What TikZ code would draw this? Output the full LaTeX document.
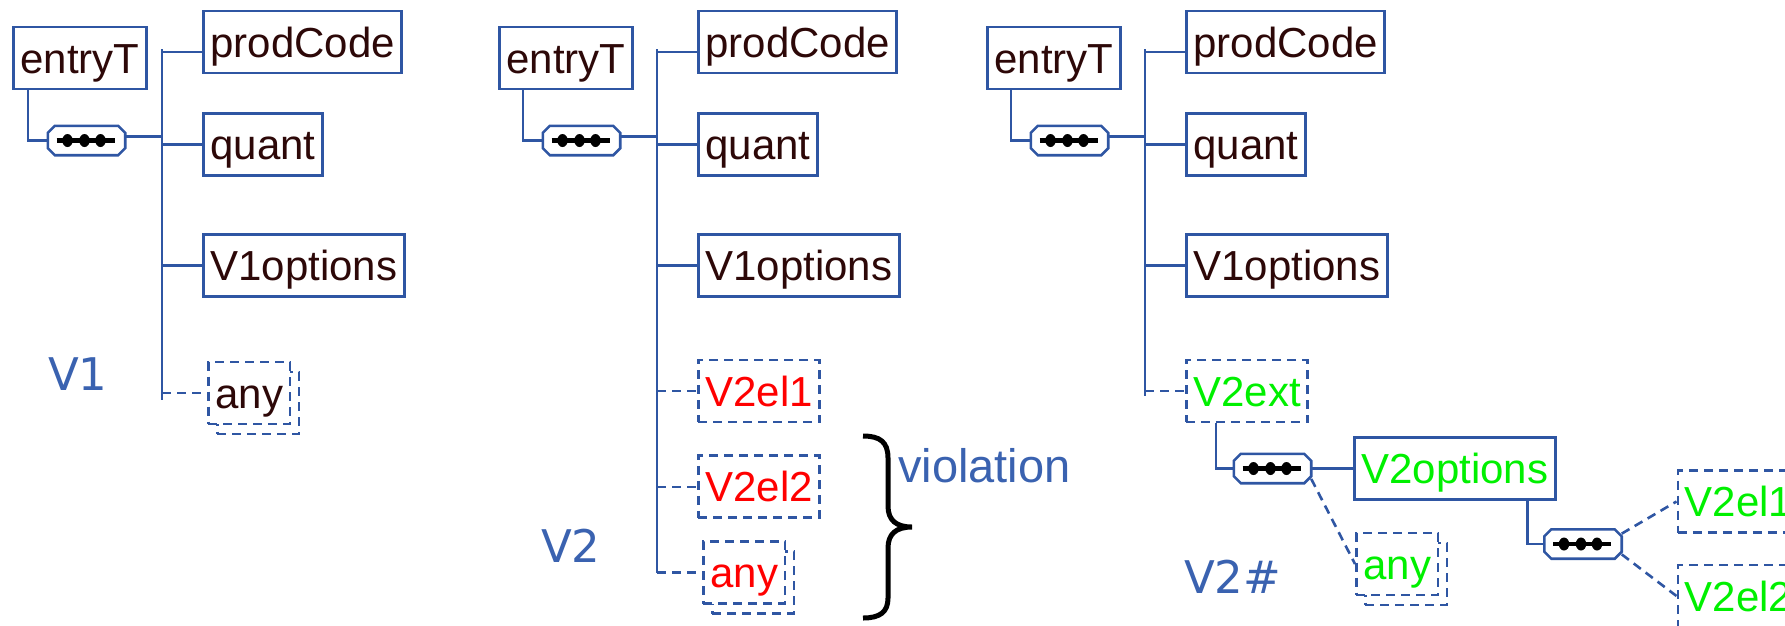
\documentclass[tikz,border=0pt]{standalone}
\usepackage{fontspec}
\setmainfont{Liberation Sans}
\newfontfamily\tagfont{DejaVu Sans}
\usetikzlibrary{positioning}
\definecolor{boxblue}{HTML}{2F56A3}
\definecolor{tagblue}{HTML}{3A62B0}
\definecolor{ink}{HTML}{2D0808}
\definecolor{v2red}{HTML}{FF0000}
\definecolor{v2green}{HTML}{00F000}

% sequence compositor: chamfered box with three beads on a bar
\newcommand{\seqmark}[1]{%
  \draw[draw=boxblue, line width=2.6pt, fill=white]
    ([xshift=7pt]#1.north west) -- ([xshift=-7pt]#1.north east)
    -- ([yshift=-7pt]#1.north east) -- ([yshift=7pt]#1.south east)
    -- ([xshift=-7pt]#1.south east) -- ([xshift=7pt]#1.south west)
    -- ([yshift=7pt]#1.south west) -- ([yshift=-7pt]#1.north west) -- cycle;
  \draw[line width=4.5pt] ([xshift=-30pt]#1.center) -- ([xshift=28pt]#1.center);
  \foreach \dotx in {-19,-2,14}
    \fill ([xshift=\dotx pt]#1.center) ellipse (5.2pt and 6.5pt);
}

\begin{document}
\begin{tikzpicture}[
    x=1pt, y=-1pt,
    elem/.style={rectangle, draw=boxblue, line width=2.7pt, fill=white, text=ink,
        anchor=west, inner xsep=7pt, inner ysep=0pt, minimum height=62pt,
        text height=30pt, text depth=0pt, font=\fontsize{42}{48}\selectfont},
    optelem/.style={elem, dash pattern=on 9pt off 6pt},
    anyelem/.style={optelem, preaction={draw=boxblue, fill=white, line width=2.7pt,
        dash pattern=on 9pt off 6pt, transform canvas={shift={(9pt,-10pt)}}}},
    seq/.style={rectangle, inner sep=0pt, minimum width=77pt, minimum height=29pt},
    link/.style={draw=boxblue, line width=2.6pt},
    optlink/.style={link, dash pattern=on 9pt off 6pt},
    tag/.style={text=tagblue, inner sep=0pt, anchor=base west, font=\tagfont\fontsize{45}{50}\selectfont},
]
\useasboundingbox (0,0) rectangle (1785,625);

% common head of the three versions
\foreach \ver/\dx/\ex in {a/0/12, b/495/3, c/983/3} {
  \begin{scope}[xshift=\dx pt]
    \node[elem] (\ver-entry) at (\ex,58) {entryT};
    \node[seq] (\ver-seq) at (86.5,140.5) {};
    \node[elem] (\ver-code) at (202,42) {prodCode};
    \node[elem, below=38pt of \ver-code.south west, anchor=north west] (\ver-quant) {quant};
    \node[elem, below=56pt of \ver-quant.south west, anchor=north west] (\ver-opts) {V1options};
    \coordinate (\ver-bus) at (162,49);
    \draw[link] (\ver-seq.west) -- ++(-20,0) coordinate (\ver-bend) -- (\ver-bend |- \ver-entry.south);
    \draw[link] ([yshift=4pt]\ver-seq.east) -- ([yshift=4pt]\ver-seq.east -| \ver-bus);
    \seqmark{\ver-seq}
    \draw[link] (\ver-bus) |- ([yshift=-10pt]\ver-code.west);
    \draw[link] (\ver-bus |- \ver-quant.west) -- (\ver-quant.west);
    \draw[link] (\ver-bus |- \ver-opts.west) -- (\ver-opts.west);
  \end{scope}
}

% V1: open content at the end
\node[anyelem, below=63pt of a-opts.south west, anchor=north west, xshift=5pt] (a-any) {any};
\draw[link] (a-bus) -- ([yshift=-7pt]a-bus |- a-any.west);
\draw[optlink] (a-bus |- a-any.west) -- (a-any.west);
\node[tag] (a-tag) at (48,390) {V1};

% V2: new elements appended
\node[optelem, text=v2red, below=61pt of b-opts.south west, anchor=north west] (b-el1) {V2el1};
\node[optelem, text=v2red, below=31pt of b-el1.south west, anchor=north west] (b-el2) {V2el2};
\node[anyelem, text=v2red, below=21pt of b-el2.south west, anchor=north west, xshift=5pt] (b-any) {any};
\draw[link] (b-bus) -- (b-bus |- b-any.west);
\foreach \n in {el1, el2, any}
  \draw[optlink] (b-bus |- b-\n.west) -- (b-\n.west);
\node[tag] (b-tag) at (541,562) {V2};
\node[tag, font=\fontsize{47}{52}\selectfont] (b-note) at (898,482) {violation};

% brace
\draw[line width=5pt] (863,436) .. controls (880,436) and (888,442) .. (888,458)
    -- (888,506) .. controls (888,520) and (896,527) .. (912,527)
    .. controls (896,527) and (888,534) .. (888,548)
    -- (888,598) .. controls (888,612) and (880,618) .. (863,618);

% V2#: extension element
\node[optelem, text=v2green, below=61pt of c-opts.south west, anchor=north west] (c-ext) {V2ext};
\draw[link] (c-bus) -- ([yshift=-5pt]c-bus |- c-ext.west);
\draw[optlink] (c-bus |- c-ext.west) -- (c-ext.west);
\node[seq] (c-seq2) at (1272.5,468.5) {};
\node[elem, text=v2green, right=42pt of c-seq2] (c-more) {V2options};
\node[anyelem, text=v2green] (c-any) at (1355,564) {any};
\node[seq] (c-seq3) at (1583,544) {};
\node[optelem, text=v2green] (c-el1) at (1676.5,501.5) {V2el1};
\node[optelem, text=v2green] (c-el2) at (1676.5,596) {V2el2};
\draw[link] ([xshift=31pt]c-ext.south west) |- (c-seq2.west);
\draw[link] (c-seq2.east) -- (c-more.west);
\draw[optlink] (c-seq2.-15) -- (c-any.west);
\draw[link] ([xshift=-29pt]c-more.south east) |- (c-seq3.west);
\draw[optlink] (c-seq3.15) -- (c-el1.west);
\draw[optlink] (c-seq3.-15) -- (c-el2.west);
\seqmark{c-seq2}
\seqmark{c-seq3}
\node[tag] (c-tag) at (1184,593) {V2\#};

\end{tikzpicture}
\end{document}
